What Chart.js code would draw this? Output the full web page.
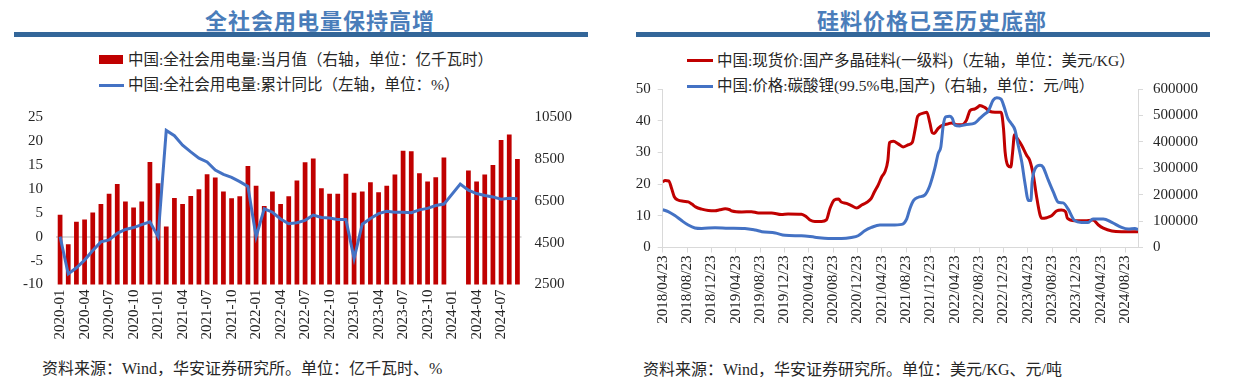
<!DOCTYPE html>
<html>
<head>
<meta charset="utf-8">
<script src="https://cdn.jsdelivr.net/npm/chart.js@4.4.1/dist/chart.umd.min.js"></script>
<style>
  body { margin:0; width:1244px; height:380px; background:#fff; position:relative; overflow:hidden;
         font-family:"Liberation Serif","Noto Sans CJK SC",serif; color:#262626; }
  .title { position:absolute; top:3px; font:700 22px "Noto Sans CJK SC"; color:#4a7dba; text-align:center; letter-spacing:1px; }
  .rule { position:absolute; top:32px; height:5px; background:#336699; }
  .lg { position:absolute; font-size:15.5px; line-height:18px; white-space:nowrap; }
  .sw { position:absolute; }
  .src { position:absolute; font-size:16px; line-height:20px; white-space:nowrap; }
  canvas { position:absolute; }
</style>
</head>
<body>

<div class="title" style="left:0;width:640px">全社会用电量保持高增</div>
<div class="rule" style="left:14px;width:574px"></div>
<div class="sw" style="left:99px;top:55px;width:24px;height:9px;background:#c00000"></div>
<div class="lg" style="left:128px;top:51px">中国:全社会用电量:当月值（右轴，单位：亿千瓦时）</div>
<div class="sw" style="left:99px;top:83.5px;width:25px;height:3px;background:#4472c4"></div>
<div class="lg" style="left:128px;top:76px">中国:全社会用电量:累计同比（左轴，单位：%）</div>
<div class="src" style="left:42px;top:359px">资料来源：Wind，华安证券研究所。单位：亿千瓦时、%</div>

<div class="title" style="left:632px;width:600px">硅料价格已至历史底部</div>
<div class="rule" style="left:636px;width:574px"></div>
<div class="sw" style="left:687px;top:59px;width:26px;height:3px;background:#c00000"></div>
<div class="lg" style="left:717px;top:52px">中国:现货价:国产多晶硅料(一级料)（左轴，单位：美元/KG）</div>
<div class="sw" style="left:687px;top:84.5px;width:26px;height:3px;background:#4472c4"></div>
<div class="lg" style="left:717px;top:77px">中国:价格:碳酸锂(99.5%电,国产)（右轴，单位：元/吨）</div>
<div class="src" style="left:643px;top:360px">资料来源：Wind，华安证券研究所。单位：美元/KG、元/吨</div>

<canvas id="c1" width="620" height="255" style="left:0;top:95px"></canvas>
<canvas id="c2" width="624" height="270" style="left:620px;top:70px"></canvas>

<script>
// ---- left chart: electricity consumption ----
var months = [
  '2020-01','2020-02','2020-03','2020-04','2020-05','2020-06','2020-07','2020-08','2020-09','2020-10','2020-11','2020-12',
  '2021-01','2021-02','2021-03','2021-04','2021-05','2021-06','2021-07','2021-08','2021-09','2021-10','2021-11','2021-12',
  '2022-01','2022-02','2022-03','2022-04','2022-05','2022-06','2022-07','2022-08','2022-09','2022-10','2022-11','2022-12',
  '2023-01','2023-02','2023-03','2023-04','2023-05','2023-06','2023-07','2023-08','2023-09','2023-10','2023-11','2023-12',
  '2024-01','2024-02','2024-03','2024-04','2024-05','2024-06','2024-07','2024-08','2024-09'
];
// 当月值, 亿千瓦时 (right axis)
var monthlyUse = [
  5830, 4420, 5500, 5600, 5940, 6350, 6830, 7300, 6460, 6180, 6460, 8350,
  7330, 5270, 6630, 6350, 6730, 7050, 7760, 7610, 6940, 6620, 6710, 8160,
  7220, 6250, 6940, 6350, 6710, 7470, 8340, 8520, 7100, 6830, 6830, 7790,
  6880, 6940, 7380, 6910, 7220, 7750, 8890, 8860, 7810, 7420, 7620, 8570,
  null, null, 7950, 7420, 7750, 8210, 9400, 9660, 8490
];
// 累计同比, % (left axis)
var cumYoY = [
  0, -7.8, -6.5, -4.9, -2.9, -1.1, -0.7, 0.7, 1.5, 1.9, 2.5, 3.1,
  0, 22.2, 21.1, 19.1, 17.7, 16.4, 15.6, 13.9, 13.0, 12.4, 11.5, 10.5,
  0, 5.8, 5.1, 3.7, 2.7, 2.9, 3.4, 4.5, 4.0, 3.9, 3.6, 3.6,
  -4.6, 2.6, 3.8, 4.8, 5.3, 5.1, 5.1, 5.0, 5.6, 5.9, 6.5, 6.8,
  null, 11.0, 9.7, 9.0, 8.6, 8.3, 7.8, 8.0, 7.9
];

// ---- right chart: polysilicon & lithium carbonate ----
var polyDates = [
  '2018-04-23','2018-05-05','2018-05-23','2018-06-07','2018-06-20','2018-07-08','2018-08-05','2018-08-29','2018-09-17','2018-10-05',
  '2018-11-05','2018-12-08','2019-01-11','2019-02-04','2019-03-01','2019-03-20','2019-04-05','2019-05-23','2019-07-11','2019-08-14',
  '2019-10-20','2019-12-08','2020-01-11','2020-03-17','2020-04-11','2020-04-29','2020-05-23','2020-06-26','2020-07-20','2020-08-08',
  '2020-08-29','2020-09-20','2020-10-02','2020-10-29','2020-11-23','2020-12-20','2021-01-14','2021-02-08','2021-03-01','2021-03-17',
  '2021-04-05','2021-04-23','2021-05-08','2021-05-23','2021-06-01','2021-06-20','2021-07-14','2021-08-08','2021-09-04','2021-09-23',
  '2021-10-08','2021-10-20','2021-11-14','2021-12-05','2021-12-20','2022-01-02','2022-01-11','2022-02-01','2022-02-26','2022-03-20',
  '2022-04-08','2022-05-02','2022-05-26','2022-06-20','2022-07-08','2022-08-01','2022-08-20','2022-08-26','2022-09-20','2022-10-17',
  '2022-11-11','2022-12-11','2022-12-23','2023-01-01','2023-01-14','2023-01-29','2023-02-08','2023-02-17','2023-03-02','2023-03-23',
  '2023-04-17','2023-05-02','2023-05-20','2023-06-05','2023-06-23','2023-07-02','2023-07-26','2023-08-20','2023-09-14','2023-10-08',
  '2023-10-29','2023-11-08','2023-12-14','2024-02-05','2024-03-14','2024-04-11','2024-05-05','2024-06-17','2024-08-05','2024-10-26'
];
// 美元/KG (left axis)
var polyPrice = [
  20.7, 21.1, 21.0, 18.6, 16.0, 15.0, 14.6, 14.4, 13.7, 12.8,
  12.1, 11.7, 11.6, 11.9, 12.2, 12.0, 11.5, 11.2, 11.3, 10.9,
  10.9, 10.4, 10.6, 10.5, 9.7, 8.7, 8.2, 8.2, 8.7, 12.4,
  15.0, 15.3, 14.4, 13.9, 13.2, 12.5, 13.4, 14.2, 15.5, 17.6,
  19.7, 22.3, 23.8, 27.5, 33.1, 33.5, 32.7, 31.7, 32.4, 33.1,
  37.5, 41.4, 42.3, 42.7, 39.3, 36.2, 36.0, 37.6, 38.7, 39.0,
  39.3, 38.7, 38.7, 40.1, 43.2, 43.7, 44.5, 44.8, 44.2, 42.9,
  42.7, 42.7, 37.5, 30.1, 25.9, 25.4, 30.1, 35.6, 34.3, 32.2,
  29.1, 27.5, 22.8, 16.5, 10.3, 9.2, 9.4, 10.0, 11.5, 11.8,
  11.3, 9.2, 8.4, 8.4, 8.7, 7.1, 6.1, 5.2, 5.0, 5.0
];
var lithiumDates = [
  '2018-04-23','2018-05-20','2018-06-23','2018-07-26','2018-08-29','2018-10-02','2018-11-05','2019-01-11','2019-03-17','2019-06-08',
  '2019-07-29','2019-09-02','2019-11-08','2019-12-26','2020-03-17','2020-05-23','2020-07-29','2020-10-05','2020-11-23','2020-12-26',
  '2021-01-29','2021-03-02','2021-04-14','2021-06-11','2021-08-02','2021-08-26','2021-09-11','2021-09-29','2021-10-23','2021-11-26',
  '2021-12-20','2022-01-14','2022-02-01','2022-02-14','2022-02-26','2022-03-08','2022-03-29','2022-04-11','2022-04-23','2022-05-17',
  '2022-06-20','2022-08-01','2022-08-26','2022-09-20','2022-10-08','2022-11-02','2022-11-20','2022-12-11','2022-12-26','2023-01-14',
  '2023-02-01','2023-02-20','2023-03-02','2023-03-23','2023-04-08','2023-04-26','2023-05-08','2023-05-14','2023-05-29','2023-06-23',
  '2023-07-08','2023-08-01','2023-08-29','2023-09-23','2023-10-17','2023-11-11','2023-12-14','2024-01-17','2024-02-20','2024-03-14',
  '2024-05-05','2024-06-17','2024-08-05','2024-09-08','2024-10-11','2024-10-26'
];
// 元/吨 (right axis)
var lithiumPrice = [
  143000, 136000, 121000, 102000, 85000, 74000, 72000, 75000, 73000, 72000,
  66000, 60000, 55000, 46000, 44500, 39000, 34200, 34200, 38000, 44500,
  63500, 76000, 85000, 85000, 87500, 108000, 146000, 177700, 190200, 199400,
  234800, 298300, 355400, 380500, 463100, 494700, 497300, 488600, 463100, 460400,
  465700, 471000, 488600, 505000, 516300, 558200, 567000, 562000, 532700, 488600,
  469500, 444000, 399500, 323400, 247300, 177700, 177700, 247300, 298300, 310900,
  304400, 260300, 209300, 171200, 168900, 146100, 101600, 95100, 95100, 108000,
  108000, 95100, 76100, 70000, 72300, 68000
];
var dateTicks = [
  '2018/04/23','2018/08/23','2018/12/23','2019/04/23','2019/08/23','2019/12/23','2020/04/23',
  '2020/08/23','2020/12/23','2021/04/23','2021/08/23','2021/12/23','2022/04/23','2022/08/23',
  '2022/12/23','2023/04/23','2023/08/23','2023/12/23','2024/04/23','2024/08/23'
];

Chart.defaults.font.family = '"Liberation Serif","Noto Sans CJK SC",serif';
Chart.defaults.font.size = 15;
Chart.defaults.color = '#262626';

// months since 2018-04-23
function toMonth(s) {
  var p = s.split('-').map(Number);
  return (p[0] - 2018) * 12 + (p[1] - 4) + (p[2] - 23) / 30;
}
function pts(dates, vals) {
  return dates.map(function (d, i) { return { x: toMonth(d), y: vals[i] }; });
}
// plain numbers, no thousands separator
function plain(v) { return String(v); }

new Chart(document.getElementById('c1'), {
  data: {
    labels: months,
    datasets: [{
      type: 'line',
      label: '中国:全社会用电量:累计同比',
      data: cumYoY,
      yAxisID: 'y',
      borderColor: '#4472c4',
      borderWidth: 3,
      pointRadius: 0,
      tension: 0,
      spanGaps: true,
      order: 0
    }, {
      type: 'bar',
      label: '中国:全社会用电量:当月值',
      data: monthlyUse,
      yAxisID: 'y2',
      backgroundColor: '#c00000',
      barPercentage: 0.58,
      categoryPercentage: 1,
      order: 1
    }]
  },
  options: {
    responsive: false,
    animation: false,
    layout: { padding: { top: 16.5, left: 0, right: 0, bottom: 0 } },
    plugins: { legend: { display: false }, tooltip: { enabled: false } },
    scales: {
      x: {
        type: 'category',
        offset: true,
        grid: { display: false, drawTicks: false },
        border: { display: false },
        ticks: {
          autoSkip: false, minRotation: 90, maxRotation: 90, padding: 5,
          callback: function (v, i) { return i % 3 === 0 ? months[i] : ''; }
        },
        afterFit: function (s) { s.height = 65.5; }
      },
      y: {
        position: 'left',
        min: -10, max: 25,
        ticks: { stepSize: 5, padding: 13, callback: plain },
        grid: {
          drawTicks: false, lineWidth: 2,
          color: function (ctx) { return ctx.tick && ctx.tick.value === 0 ? '#d9d9d9' : 'rgba(0,0,0,0)'; }
        },
        border: { display: false },
        afterFit: function (s) { s.width = 56; }
      },
      y2: {
        position: 'right',
        min: 2500, max: 10500,
        ticks: { stepSize: 2000, padding: 13, callback: plain },
        grid: { display: false, drawTicks: false },
        border: { display: false },
        afterFit: function (s) { s.width = 98.5; }
      }
    }
  }
});

var axisGrid = { drawOnChartArea: false, drawTicks: true, tickLength: 5, color: '#d9d9d9' };
var axisBorder = { display: true, color: '#d9d9d9', width: 1 };

new Chart(document.getElementById('c2'), {
  type: 'line',
  data: {
    datasets: [{
      label: '中国:现货价:国产多晶硅料(一级料)',
      data: pts(polyDates, polyPrice),
      yAxisID: 'y',
      borderColor: '#c00000',
      borderWidth: 3,
      pointRadius: 0,
      cubicInterpolationMode: 'monotone',
      order: 1
    }, {
      label: '中国:价格:碳酸锂(99.5%电,国产)',
      data: pts(lithiumDates, lithiumPrice),
      yAxisID: 'y2',
      borderColor: '#4472c4',
      borderWidth: 3,
      pointRadius: 0,
      cubicInterpolationMode: 'monotone',
      order: 0
    }]
  },
  options: {
    responsive: false,
    animation: false,
    layout: { padding: { top: 18.5, left: 0, right: 0, bottom: 0 } },
    plugins: { legend: { display: false }, tooltip: { enabled: false } },
    scales: {
      x: {
        type: 'linear',
        min: 0,
        max: toMonth(polyDates[polyDates.length - 1]),
        grid: axisGrid,
        border: axisBorder,
        ticks: {
          stepSize: 4, includeBounds: false, autoSkip: false,
          minRotation: 90, maxRotation: 90, padding: 3,
          callback: function (v) { return dateTicks[Math.round(v / 4)]; }
        },
        afterFit: function (s) { s.height = 92.5; }
      },
      y: {
        position: 'left',
        min: 0, max: 50,
        ticks: { stepSize: 10, padding: 7, callback: plain },
        grid: axisGrid,
        border: axisBorder,
        afterFit: function (s) { s.width = 42.7; }
      },
      y2: {
        position: 'right',
        min: 0, max: 600000,
        ticks: { stepSize: 100000, padding: 10, callback: plain },
        grid: axisGrid,
        border: axisBorder,
        afterFit: function (s) { s.width = 106; }
      }
    }
  }
});
</script>
</body>
</html>
